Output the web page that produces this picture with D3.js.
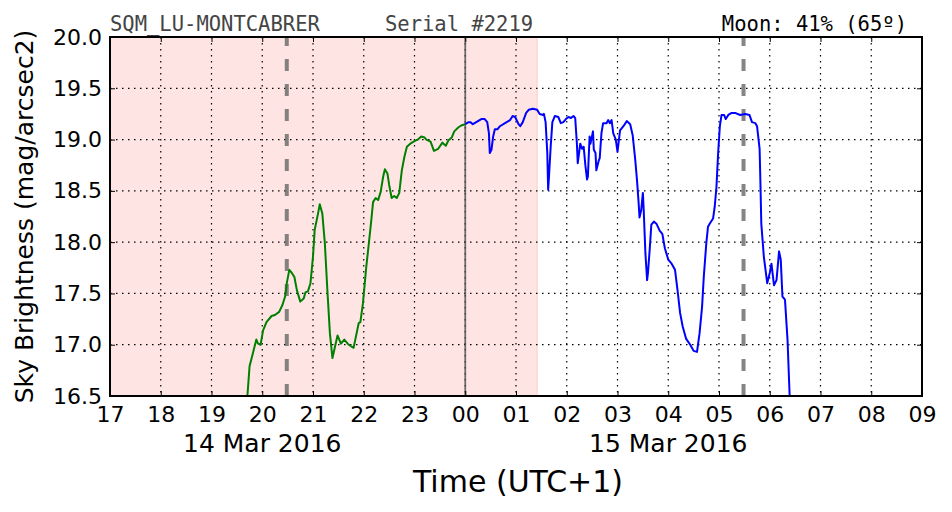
<!DOCTYPE html>
<html><head><meta charset="utf-8">
<script src="https://cdn.jsdelivr.net/npm/d3@7"></script>
<style>body{margin:0;background:#fff}svg{display:block}</style>
</head><body><svg id="c" width="952" height="512"></svg>
<script>
// ---- data ----
const hourTicks = ["17","18","19","20","21","22","23","00","01","02","03","04","05","06","07","08","09"];
const magTicks = [16.5,17.0,17.5,18.0,18.5,19.0,19.5,20.0];
const dateLabels = ["14 Mar 2016","15 Mar 2016"];
const dateLabelTimes = ["20:00","04:00"];
const titleLeft = "SQM_LU-MONTCABRER";
const titleSerial = "Serial #2219";
const titleMoon = "Moon: 41% (65º)";
const twilightEnd = "01:25";
const moonLines = ["20:29","05:29"];
const midnight = "00:00";

const greenTimes = ["19:42","19:45","19:49","19:53","19:55","19:58","20:01","20:05","20:11","20:15","20:20","20:24","20:27","20:29","20:32","20:35","20:38","20:41","20:45","20:49","20:51","20:54","20:57","21:00","21:02","21:06","21:08","21:11","21:14","21:17","21:20","21:23","21:26","21:29","21:33","21:37","21:41","21:44","21:48","21:50","21:54","21:56","21:59","22:03","22:05","22:09","22:11","22:14","22:17","22:20","22:23","22:25","22:28","22:30","22:33","22:36","22:39","22:42","22:45","22:48","22:51","22:55","23:01","23:04","23:08","23:12","23:14","23:19","23:23","23:28","23:33","23:37","23:40","23:44","23:47","23:52","23:56","00:00"];
const greenMags = [16.45,16.79,16.92,17.05,17.01,17.00,17.14,17.22,17.28,17.29,17.32,17.39,17.47,17.60,17.73,17.70,17.66,17.53,17.42,17.45,17.51,17.52,17.60,17.86,18.12,18.28,18.37,18.28,17.99,17.53,17.11,16.87,16.98,17.09,17.01,17.05,17.01,16.99,16.97,17.05,17.21,17.22,17.40,17.76,17.91,18.22,18.39,18.43,18.41,18.49,18.64,18.71,18.67,18.56,18.43,18.45,18.43,18.48,18.70,18.83,18.93,18.96,18.99,19.00,19.03,19.02,19.00,18.98,18.89,18.91,18.97,18.94,18.99,19.02,19.08,19.12,19.14,19.15];

const blueTimes = ["00:00","00:04","00:06","00:09","00:13","00:19","00:23","00:26","00:28","00:29","00:31","00:33","00:35","00:38","00:41","00:47","00:53","00:56","00:59","01:03","01:05","01:08","01:12","01:15","01:20","01:25","01:28","01:32","01:33","01:35","01:37","01:38","01:39","01:41","01:43","01:46","01:50","01:53","01:56","01:59","02:02","02:05","02:08","02:10","02:12","02:13","02:16","02:18","02:20","02:22","02:24","02:25","02:27","02:28","02:31","02:32","02:34","02:35","02:38","02:39","02:41","02:43","02:47","02:49","02:51","02:53","02:55","02:58","03:00","03:03","03:07","03:11","03:15","03:18","03:21","03:23","03:25","03:26","03:28","03:30","03:31","03:33","03:35","03:36","03:38","03:40","03:43","03:46","03:50","03:53","03:56","04:00","04:04","04:08","04:11","04:14","04:17","04:21","04:26","04:30","04:34","04:37","04:40","04:42","04:45","04:47","04:49","04:53","04:55","04:57","04:59","05:01","05:03","05:06","05:08","05:11","05:15","05:19","05:25","05:31","05:36","05:39","05:43","05:45","05:48","05:49","05:50","05:53","05:57","06:00","06:02","06:05","06:08","06:11","06:13","06:15","06:18","06:21","06:24"];
const blueMags = [19.15,19.17,19.17,19.15,19.17,19.20,19.20,19.17,19.06,18.87,18.90,19.03,19.10,19.10,19.13,19.16,19.19,19.23,19.22,19.15,19.13,19.17,19.26,19.29,19.30,19.29,19.25,19.24,19.25,19.17,18.87,18.51,18.64,18.93,19.17,19.23,19.22,19.16,19.17,19.20,19.22,19.21,19.23,19.21,18.96,18.77,18.96,18.91,18.93,18.75,18.61,18.64,19.03,18.96,19.08,18.90,18.87,18.70,18.80,18.82,19.06,19.16,19.16,19.19,19.16,19.19,19.06,19.00,18.88,19.09,19.13,19.18,19.15,19.04,18.80,18.61,18.38,18.24,18.31,18.48,18.31,17.89,17.63,17.70,17.92,18.17,18.20,18.18,18.11,18.08,17.94,17.83,17.79,17.73,17.53,17.31,17.18,17.06,17.00,16.94,16.93,17.11,17.37,17.66,17.99,18.15,18.18,18.23,18.35,18.54,18.87,19.13,19.24,19.24,19.20,19.24,19.26,19.26,19.24,19.25,19.24,19.17,19.16,19.13,18.91,18.57,18.18,17.86,17.60,17.70,17.79,17.58,17.63,17.91,17.83,17.47,17.44,17.05,16.40];

// ---- helpers ----
const parseT = s => {
  const parts = s.split(":").map(Number);
  const h = parts[0], m = parts.length > 1 ? parts[1] : 0;
  return new Date(2016, 2, h >= 12 ? 14 : 15, h, m, 0);
};
const M = {l:110, r:922, t:37, b:396};
const x = d3.scaleTime().domain([parseT("17:00"), parseT("09:00")]).range([M.l, M.r]);
const y = d3.scaleLinear().domain([16.5, 20]).range([M.b, M.t]);
const svg = d3.select("#c");
const font = "'DejaVu Sans', sans-serif";
const mono = "'DejaVu Sans Mono', monospace";

svg.append("defs").append("clipPath").attr("id","clip")
  .append("rect").attr("x",M.l).attr("y",M.t).attr("width",M.r-M.l).attr("height",M.b-M.t);

const plot = svg.append("g").attr("clip-path","url(#clip)");
plot.append("rect")
  .attr("x", M.l).attr("y", M.t)
  .attr("width", x(parseT(twilightEnd)) - M.l).attr("height", M.b - M.t)
  .attr("fill", "#ffe4e4").attr("stroke", "#ffcaca").attr("stroke-width", 1);

const hourDates = hourTicks.map(parseT);
plot.append("g").selectAll("line").data(hourDates.slice(1, -1)).join("line")
  .attr("x1", d => x(d)).attr("x2", d => x(d)).attr("y1", M.t).attr("y2", M.b)
  .attr("stroke", "#000").attr("stroke-width", 1.2).attr("stroke-dasharray", "1.5,4.5");
plot.append("g").selectAll("line").data(magTicks.slice(1, -1)).join("line")
  .attr("y1", d => y(d)).attr("y2", d => y(d)).attr("x1", M.l).attr("x2", M.r)
  .attr("stroke", "#000").attr("stroke-width", 1.2).attr("stroke-dasharray", "1.5,4.5");

plot.append("line")
  .attr("x1", x(parseT(midnight))).attr("x2", x(parseT(midnight)))
  .attr("y1", M.t).attr("y2", M.b)
  .attr("stroke", "#4d4d4d").attr("stroke-opacity", 0.8).attr("stroke-width", 1.8);

plot.append("g").selectAll("line").data(moonLines).join("line")
  .attr("x1", d => x(parseT(d))).attr("x2", d => x(parseT(d)))
  .attr("y1", M.b).attr("y2", M.t)
  .attr("stroke", "#666").attr("stroke-opacity", 0.8).attr("stroke-width", 4)
  .attr("stroke-dasharray", "12,13");

const line = d3.line().x(d => x(d[0])).y(d => y(d[1]));
const green = greenTimes.map((t, i) => [parseT(t), greenMags[i]]);
const blue = blueTimes.map((t, i) => [parseT(t), blueMags[i]]);
plot.append("path").datum(green).attr("d", line)
  .attr("fill", "none").attr("stroke", "#008000").attr("stroke-width", 2).attr("stroke-linejoin","round");
plot.append("path").datum(blue).attr("d", line)
  .attr("fill", "none").attr("stroke", "#0000ff").attr("stroke-width", 2).attr("stroke-linejoin","round");

const fmtH = d3.timeFormat("%H");
const ax = svg.append("g");
const gBottom = ax.append("g").attr("transform", `translate(0,${M.b})`)
  .call(d3.axisBottom(x).tickValues(hourDates).tickFormat(fmtH).tickSizeInner(-5).tickSizeOuter(0).tickPadding(10));
const gTop = ax.append("g").attr("transform", `translate(0,${M.t})`)
  .call(d3.axisTop(x).tickValues(hourDates).tickFormat("").tickSizeInner(-5).tickSizeOuter(0));
const gLeft = ax.append("g").attr("transform", `translate(${M.l},0)`)
  .call(d3.axisLeft(y).tickValues(magTicks).tickFormat(d3.format(".1f")).tickSizeInner(-5).tickSizeOuter(0).tickPadding(8));
const gRight = ax.append("g").attr("transform", `translate(${M.r},0)`)
  .call(d3.axisRight(y).tickValues(magTicks).tickFormat("").tickSizeInner(-5).tickSizeOuter(0));
[gBottom, gTop, gLeft, gRight].forEach(g => {
  g.select(".domain").remove();
  g.selectAll(".tick line").attr("stroke", "#000").attr("stroke-width", 1);
  g.selectAll("text").attr("font-family", font).attr("font-size", 22).attr("fill", "#000");
});

svg.append("rect").attr("x", M.l).attr("y", M.t).attr("width", M.r - M.l).attr("height", M.b - M.t)
  .attr("fill", "none").attr("stroke", "#000").attr("stroke-width", 2);

svg.append("g").selectAll("text").data(dateLabels).join("text")
  .attr("x", (d, i) => x(parseT(dateLabelTimes[i]))).attr("y", 452)
  .attr("text-anchor", "middle").attr("font-family", font).attr("font-size", 25).text(d => d);

svg.append("text").attr("x", (M.l + M.r) / 2 + 2).attr("y", 492).attr("text-anchor", "middle")
  .attr("font-family", font).attr("font-size", 30).text("Time (UTC+1)");
svg.append("text").attr("transform", `translate(33,${(M.t + M.b) / 2}) rotate(-90)`)
  .attr("text-anchor", "middle").attr("font-family", font).attr("font-size", 25)
  .text("Sky Brightness (mag/arcsec2)");

svg.append("text").attr("x", M.l).attr("y", 31).attr("font-family", mono).attr("font-size", 20.5)
  .attr("fill", "#444").text(titleLeft);
svg.append("text").attr("x", 385).attr("y", 31).attr("font-family", mono).attr("font-size", 20.5)
  .attr("fill", "#444").text(titleSerial);
svg.append("text").attr("x", 907).attr("y", 31).attr("text-anchor", "end").attr("font-family", mono).attr("font-size", 20.5)
  .attr("fill", "#000").text(titleMoon);
</script></body></html>
